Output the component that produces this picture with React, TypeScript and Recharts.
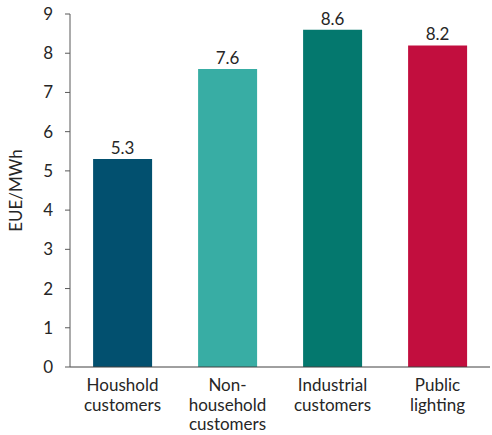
import { BarChart, Bar, XAxis, YAxis, LabelList, Cell } from 'recharts';

const categories = ['Houshold\ncustomers', 'Non-\nhousehold\ncustomers', 'Industrial\ncustomers', 'Public\nlighting'];
const values = [5.3, 7.6, 8.6, 8.2];
const barColors = ['#02506f', '#38ada4', '#04786e', '#c20e3e'];
const yTicks = [0, 1, 2, 3, 4, 5, 6, 7, 8, 9];

const data = categories.map((name, i) => ({ name, value: values[i] }));

const FONT = 'Lato, "Open Sans", sans-serif';
const TEXT = '#262626';

function CategoryTick({ x, y, payload }: any) {
    const lines = String(payload.value).split('\n');
    return (
        <text x={x} y={y} textAnchor="middle" fill={TEXT} fontSize={17} fontFamily={FONT}>
            {lines.map((line, i) => (
                <tspan key={i} x={x} dy={i === 0 ? 16 : 19.5}>
                    {line}
                </tspan>
            ))}
        </text>
    );
}

export default function App() {
    return (
        <div style={{ position: 'absolute', left: 0, top: 0, background: '#fff' }}>
            <BarChart
                width={492}
                height={435}
                data={data}
                margin={{ top: 14, right: 2, left: 0, bottom: 0 }}
                barCategoryGap="22%"
            >
                <XAxis
                    dataKey="name"
                    height={68}
                    tick={<CategoryTick />}
                    tickLine={false}
                    axisLine={{ stroke: '#404040', strokeWidth: 1 }}
                    interval={0}
                />
                <YAxis
                    width={70}
                    domain={[0, 9]}
                    ticks={yTicks}
                    tickSize={5}
                    tickMargin={12}
                    tickLine={{ stroke: '#595959' }}
                    axisLine={{ stroke: '#595959' }}
                    tick={{ fill: TEXT, fontSize: 17, fontFamily: FONT }}
                    label={{
                        value: 'EUE/MWh',
                        angle: -90,
                        position: 'insideLeft',
                        offset: 16,
                        style: { textAnchor: 'middle', fill: TEXT, fontSize: 17, fontFamily: FONT },
                    }}
                />
                <Bar dataKey="value" isAnimationActive={false}>
                    {data.map((d, i) => (
                        <Cell key={d.name} fill={barColors[i]} />
                    ))}
                    <LabelList
                        dataKey="value"
                        position="top"
                        offset={5}
                        style={{ fill: TEXT, fontSize: 17, fontFamily: FONT }}
                        formatter={(v: any) => Number(v).toFixed(1)}
                    />
                </Bar>
            </BarChart>
        </div>
    );
}
